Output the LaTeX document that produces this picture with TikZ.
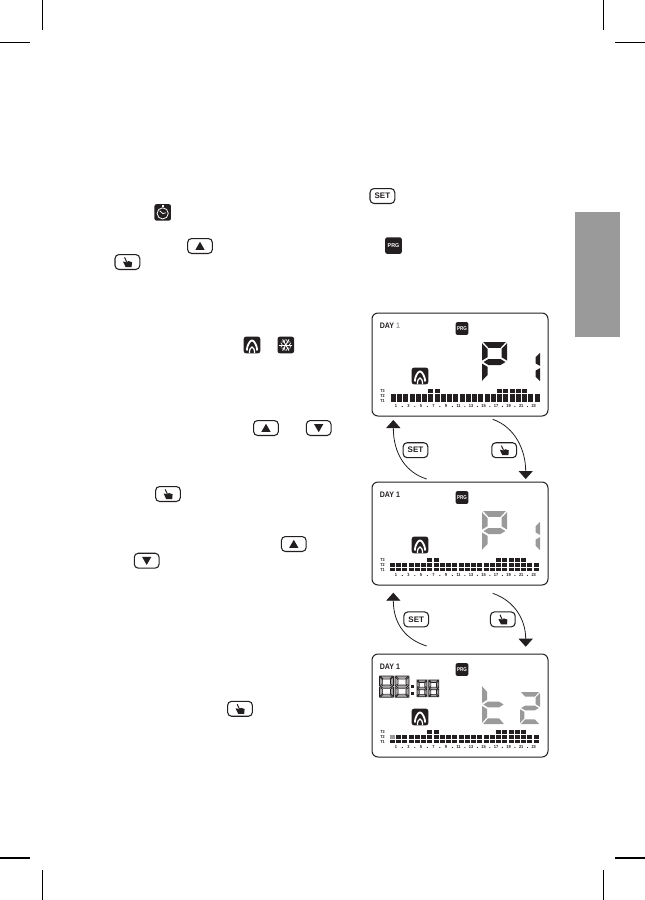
\documentclass[tikz,border=0pt]{standalone}
\usepackage{fontspec}
\usepackage{graphicx}
\setmainfont{Liberation Sans}
\usetikzlibrary{arrows.meta}
\definecolor{ink}{HTML}{231F20}
\definecolor{segGray}{HTML}{9B9A9A}
\tikzset{
  btn/.style={draw=ink,line width=.8pt,rounded corners=3pt,minimum width=18.6pt,minimum height=11.2pt,inner sep=0pt,fill=white,font=\bfseries\fontsize{6}{6}\selectfont,text=ink},
  lcd/.style={draw=ink,line width=.75pt,rounded corners=4.5pt,minimum width=132pt,minimum height=77.25pt,inner sep=0pt},
  prgbox/.style={fill=ink,rounded corners=1.5pt,minimum width=#1,minimum height=#1,inner sep=0pt,text=white,font=\bfseries\fontsize{4.2}{4.2}\selectfont},
  iconbox/.style={fill=ink,rounded corners=1.6pt,minimum width=12.4pt,minimum height=12.4pt,inner sep=0pt},
  flow/.style={draw=ink,line width=.6pt,-{Triangle[width=10.6pt,length=6pt,fill=ink]}},
  crop/.style={draw=black,line width=.8pt},
  barlab/.style={inner sep=0pt,text=ink,font=\bfseries\fontsize{3.3}{3.3}\selectfont},
}
% seven-segment pieces in a 25 x 40 box
\newcommand\sega{\path[segm] (1.2,0)--(23.8,0)--(18.5,5.8)--(6.5,5.8)--cycle;}
\newcommand\segb{\path[segm] (25,1.2)--(25,18.5)--(19.5,15.2)--(19.5,7)--cycle;}
\newcommand\segc{\path[segm] (25,21.5)--(25,38.8)--(19.5,33)--(19.5,24.8)--cycle;}
\newcommand\segd{\path[segm] (1.2,40)--(23.8,40)--(18.5,34.2)--(6.5,34.2)--cycle;}
\newcommand\sege{\path[segm] (0,21.5)--(5.5,24.8)--(5.5,33)--(0,38.8)--cycle;}
\newcommand\segf{\path[segm] (0,1.2)--(5.5,7)--(5.5,15.2)--(0,18.5)--cycle;}
\newcommand\segg{\path[segm] (1.5,20)--(6.5,17)--(18.5,17)--(23.5,20)--(18.5,23)--(6.5,23)--cycle;}
% #1 style, #2 x, #3 y, #4 w, #5 h, #6 list
\newcommand\sevenseg[6]{\begin{scope}[shift={(#2,#3)},xscale=#4/25,yscale=#5/40,segm/.style={#1}]
  \foreach \s in {#6}{\csname seg\s\endcsname}\end{scope}}
\tikzset{solidd/.style={fill=ink},grayd/.style={fill=segGray},hollow/.style={draw=ink,line width=.5pt,fill=ink!40}}
% icons relative to a node centre
\newcommand\flameicon[1]{\begin{scope}[shift={(#1.center)}]
  \draw[white,line width=1.35pt] (-5.2,5.5) .. controls (-5.2,1) and (-2.2,-4.6) .. (0,-4.6) .. controls (2.2,-4.6) and (5.2,1) .. (5.2,5.5);
  \draw[white,line width=.95pt] (-2.6,8) .. controls (-2.6,4.4) and (-1.2,2) .. (0,2) .. controls (1.2,2) and (2.6,4.4) .. (2.6,8);
  \end{scope}}
\newcommand\snowicon[1]{\begin{scope}[shift={(#1.center)}]
  \foreach \a in {0,60,120}{\draw[white,line width=.7pt] (\a:6.4) -- (\a+180:6.4);
    \draw[white,line width=.5pt] (\a+25:5.5) -- (\a:3.5) -- (\a-25:5.5);
    \draw[white,line width=.5pt] (\a+205:5.5) -- (\a+180:3.5) -- (\a+155:5.5);}
  \end{scope}}
\newcommand\timericon[1]{\begin{scope}[shift={(#1.center)}]
  \draw[white,line width=.6pt] (0,1) circle (5.6);
  \fill[white] (-1,-7.4) rectangle (1,-5.6);
  \draw[white,line width=.55pt] (-3,-1.6) -- (.2,1.2) -- (3,.4);
  \end{scope}}
\newcommand\handicon[1]{\begin{scope}[shift={(#1.center)}]
  \draw[ink,line width=.75pt] (-2.8,-4.6) -- (-.6,.2);
  \fill[ink] (-4.4,-.4) -- (-2.4,-.2) -- (-.8,.4) -- (1,-1) -- (4.6,.2) -- (4.2,5) -- (-1.8,5) -- cycle;
  \end{scope}}
\newcommand\upicon[1]{\fill[ink,shift={(#1.center)}] (-4.6,3.8) -- (4.6,3.8) -- (0,-4.2) -- cycle;}
\newcommand\downicon[1]{\fill[ink,shift={(#1.center)}] (-4.6,-3.8) -- (4.6,-3.8) -- (0,4.2) -- cycle;}
% LCD contents. #1 panel name, #2 bar offset
\newcommand\lcdcommon[2]{%
  \node[prgbox=9.6pt] (#1prg) at (90,15.5) {\scalebox{.8}[1]{PRG}};
  \node[iconbox] (#1flame) at (48,63) {};
  \flameicon{#1flame}
  \node[barlab,anchor=center] (#1t3) at (10.5,77.5) {\scalebox{.85}[1]{T3}};
  \node[barlab,anchor=center] (#1t2) at (10.5,82.6) {\scalebox{.85}[1]{T2}};
  \node[barlab,anchor=center] (#1t1) at (10.5,87.7) {\scalebox{.85}[1]{T1}};
  \foreach \lab [count=\i from 0] in {1,3,5,7,9,11,13,15,17,19,21,23}{
    \node[barlab] (#1num\i) at ({24+\i*12.52},93.4) {\scalebox{.9}[1]{\lab}};
    \ifnum\i<11 \fill[ink] ({30.25+\i*12.52},93.4) circle (.6);\fi
  }
  \foreach \c in {6,7,17,18,19,20,21}{\fill[ink] ({#2+\c*6.24},76.3) rectangle +(5,3.6);}
}
\newcommand\threerows[2]{% #1 colour of first mid bar, #2 offset
  \foreach \c in {0,...,23}{
    \ifnum\c=0 \fill[#1] ({#2+\c*6.24},81.2) rectangle +(5,3.5);\else \fill[ink] ({#2+\c*6.24},81.2) rectangle +(5,3.5);\fi
    \fill[ink] ({#2+\c*6.24},85.6) rectangle +(5,3.5);}
}
\newcommand\dayone[2]{\node[inner sep=0pt,anchor=west,text=ink,font=\bfseries\fontsize{6}{6}\selectfont] (#1) at (7.6,12.4) {\scalebox{.88}[1]{DAY \textcolor{#2}{1}}};}
\begin{document}
\begin{tikzpicture}[x=.75pt,y=-.75pt]
\useasboundingbox (0,0) rectangle (645,900);
% crop marks
\draw[crop] (0,42.5) -- (30,42.5);
\draw[crop] (42.5,0) -- (42.5,30);
\draw[crop] (615,42.5) -- (645,42.5);
\draw[crop] (603.5,0) -- (603.5,30);
\draw[crop] (0,858) -- (30,858);
\draw[crop] (42.5,870) -- (42.5,900);
\draw[crop] (615,858) -- (645,858);
\draw[crop] (603.5,870) -- (603.5,900);
% side tab
\fill[segGray] (575,212) rectangle (620,337);
% inline keys and icons
\node[btn] (setA) at (382.4,196) {SET};
\node[iconbox] (timerA) at (162.7,212.4) {}; \timericon{timerA}
\node[btn] (upA) at (200,246) {}; \upicon{upA}
\node[prgbox=12.4pt] (prgA) at (393.5,245.6) {\scalebox{.95}[1]{PRG}};
\node[btn] (handA) at (127.4,262) {}; \handicon{handA}
\node[iconbox] (flameA) at (252,345) {}; \flameicon{flameA}
\node[iconbox] (snowA) at (285.8,345) {}; \snowicon{snowA}
\node[btn] (upB) at (266,428) {}; \upicon{upB}
\node[btn] (downB) at (318.7,428) {}; \downicon{downB}
\node[btn] (handB) at (168,494) {}; \handicon{handB}
\node[btn] (upC) at (293.8,544) {}; \upicon{upC}
\node[btn] (downC) at (146.7,560.7) {}; \downicon{downC}
\node[btn] (handC) at (240,708.8) {}; \handicon{handC}
% panels
\node[lcd] (lcdA) at (460,364.5) {};
\node[lcd] (lcdB) at (460,533.5) {};
\node[lcd] (lcdC) at (460,705.5) {};
% panel A
\begin{scope}[shift={(372,313)}]
  \dayone{dayA}{segGray}
  \lcdcommon{A}{19}
  \sevenseg{solidd}{110}{29}{25}{40}{a,b,e,f,g}
  \sevenseg{solidd}{148}{39}{20}{30}{b,c}
  \foreach \c in {0,...,23}{\fill[ink] ({19+\c*6.24},81.2) rectangle +(5,7.9);}
\end{scope}
% panel B
\begin{scope}[shift={(372,482)}]
  \dayone{dayB}{ink}
  \lcdcommon{B}{18}
  \sevenseg{grayd}{110}{29}{25}{40}{a,b,e,f,g}
  \sevenseg{grayd}{148}{39}{20}{30}{b,c}
  \threerows{ink}{18}
\end{scope}
% panel C
\begin{scope}[shift={(372,654)}]
  \dayone{dayC}{ink}
  \lcdcommon{C}{18}
  \sevenseg{hollow}{7.5}{22}{14}{21.2}{a,b,c,d,e,f,g}
  \sevenseg{hollow}{23}{22}{14}{21.2}{a,b,c,d,e,f,g}
  \fill[ink] (39.2,31) rectangle +(3,3);
  \fill[ink] (39.2,38) rectangle +(3,3);
  \sevenseg{hollow}{45}{26}{10}{16.8}{a,b,c,d,e,f,g}
  \sevenseg{hollow}{56.7}{26}{10}{16.8}{a,b,c,d,e,f,g}
  \sevenseg{grayd}{110}{31}{23}{39}{d,e,f,g}
  \sevenseg{grayd}{148}{38}{20}{32}{a,b,d,e,g}
  \threerows{segGray}{18}
\end{scope}
% keys between panels
\node[btn] (setAB) at (415.5,450.2) {SET};
\node[btn] (handAB) at (504.2,450.2) {}; \handicon{handAB}
\node[btn] (setBC) at (416.2,619.4) {SET};
\node[btn] (handBC) at (502.8,619.4) {}; \handicon{handBC}
% connectors
\coordinate (ab1) at (426.7,479);
\coordinate (ab2) at (393.3,420);
\coordinate (ab3) at (492.7,419.3);
\coordinate (ab4) at (525.7,479);
\coordinate (bc1) at (426.7,646);
\coordinate (bc2) at (393.3,592.7);
\coordinate (bc3) at (492.7,593.3);
\coordinate (bc4) at (525.7,646.7);
\draw[flow] (ab1) .. controls (407,473) and (393.3,455) .. (ab2);
\draw[flow] (ab3) .. controls (515,427) and (525.7,450) .. (ab4);
\draw[flow] (bc1) .. controls (407,640) and (393.3,625) .. (bc2);
\draw[flow] (bc3) .. controls (515,601) and (525.7,620) .. (bc4);
\end{tikzpicture}
\end{document}
